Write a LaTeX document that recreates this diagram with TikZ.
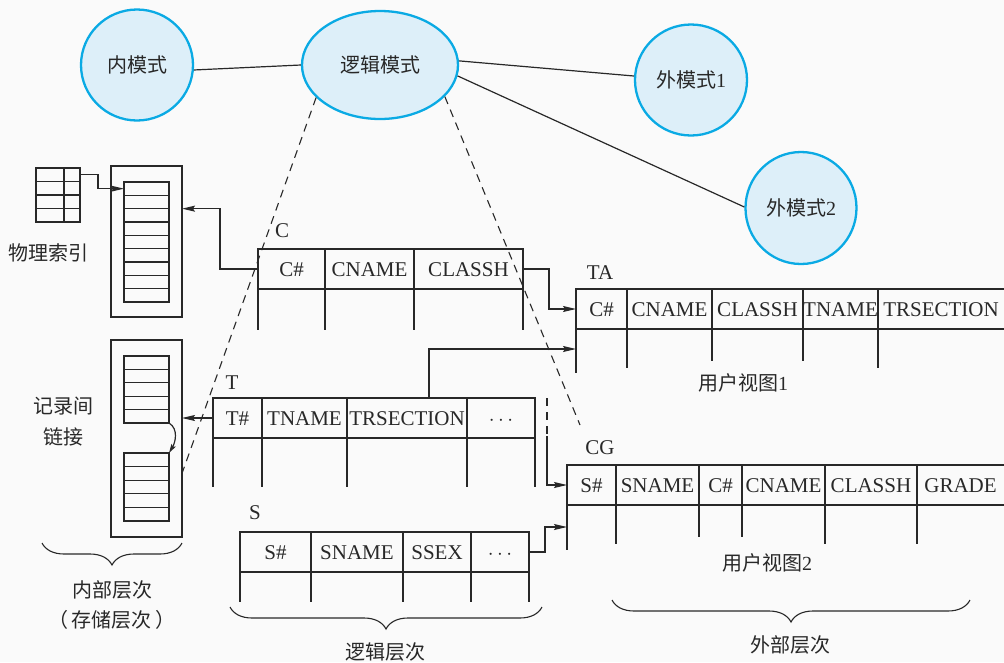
\documentclass[tikz,border=0pt]{standalone}
\usepackage{fontspec}
\setmainfont{Liberation Serif}
\newfontfamily\cjk{Noto Sans CJK SC}
\usetikzlibrary{shapes.geometric,arrows.meta,decorations.pathreplacing,calc}
\definecolor{bg}{RGB}{250,250,250}
\definecolor{ellfill}{RGB}{221,239,249}
\definecolor{elldraw}{RGB}{10,170,228}
\definecolor{ink}{RGB}{40,40,40}
\begin{document}
\begin{tikzpicture}[x=1pt,y=-1pt,color=ink,
  schema/.style={ellipse,draw=elldraw,fill=ellfill,line width=2.3pt,inner sep=0pt,font=\fontsize{20}{24}\selectfont},
  cell/.style={draw,line width=1.5pt,inner sep=0pt,outer sep=0pt,minimum height=40pt,anchor=north west,text height=14pt,text depth=0pt,font=\fontsize{21}{24}\selectfont},
  bare/.style={cell,draw=none},
  stub/.style={line width=1.1pt},
  rowbox/.style={draw,line width=1.1pt,inner sep=0pt,outer sep=0pt,anchor=north west},
  lab/.style={font=\fontsize{21}{24}\selectfont,inner sep=0pt},
  zh/.style={font=\cjk\fontsize{20}{31}\selectfont,inner sep=0pt},
  link/.style={line width=1.2pt},
  arr/.style={line width=1.2pt,-{Stealth[length=13pt,width=6pt,inset=2pt]}},
  arrsmall/.style={line width=1.2pt,-{Stealth[length=9pt,width=5pt,inset=1.5pt]}},
  dashline/.style={line width=1.1pt,dash pattern=on 8pt off 6pt},
  brc/.style={line width=1.1pt,decorate,decoration={brace,amplitude=22pt}}
]
\fill[bg] (0,0) rectangle (1004,662);
\useasboundingbox (0,0) rectangle (1004,662);

% schemas
\node[schema,minimum width=112pt,minimum height=111pt] (nei) at (137,65) {{\cjk 内模式}};
\node[schema,minimum width=156pt,minimum height=108pt] (luo) at (380,65) {{\cjk 逻辑模式}};
\node[schema,minimum width=112pt,minimum height=111pt] (wai1) at (691,80) {{\cjk 外模式}1};
\node[schema,minimum width=111pt,minimum height=112pt] (wai2) at (801,208) {{\cjk 外模式}2};
\draw[link] (nei.-5) -- (luo.180);
\draw[link] (luo.3) -- (wai1.176);
\draw[link] (luo.-8) -- (wai2.179);

% physical index
\foreach \i in {1,...,4}
  \node[rowbox,minimum width=44pt,minimum height=13.5pt] (idx\i) at (36,{168+(\i-1)*13.5}) {};
\draw[link] ([xshift=28pt]idx1.north west) -- ([xshift=28pt]idx4.south west);
\node[zh] (idxlab) at (49,253) {物理索引};

% storage box 1
\node[rowbox,minimum width=71pt,minimum height=151pt] (box1) at (111,166) {};
\foreach \i in {1,...,9}
  \node[rowbox,minimum width=45pt,minimum height=13.333pt] (in1r\i) at (124,{182+(\i-1)*13.333}) {};

% storage box 2
\node[rowbox,minimum width=71pt,minimum height=197pt] (box2) at (111,340) {};
\foreach \i in {1,...,5}
  \node[rowbox,minimum width=45pt,minimum height=13.4pt] (in2a\i) at (124,{356+(\i-1)*13.4}) {};
\foreach \i in {1,...,5}
  \node[rowbox,minimum width=45pt,minimum height=13.6pt] (in2b\i) at (124,{453+(\i-1)*13.6}) {};
\draw[arrsmall] (in2a5.south east) .. controls +(10,6) and +(6,-10) .. (in2b1.north east);
\node[zh,align=center] (linklab) at (63,422) {记录间\\链接};

% table C
\node[cell,minimum width=67pt] (C1) at (258,249) {C\#};
\node[cell,minimum width=89pt] (C2) at (325,249) {CNAME};
\node[cell,minimum width=109pt] (C3) at (414,249) {CLASSH};
\foreach \n in {C1,C2,C3} \draw[stub] (\n.south west) -- ++(0,41);
\draw[stub] (C3.south east) -- ++(0,41);
\node[lab] (Cname) at (282,231) {C};

% table TA
\node[cell,minimum width=51pt] (TA1) at (576,289) {C\#};
\node[cell,minimum width=85pt] (TA2) at (627,289) {CNAME};
\node[cell,minimum width=91pt] (TA3) at (712,289) {CLASSH};
\node[cell,minimum width=75pt] (TA4) at (803,289) {TNAME};
\node[bare,minimum width=126pt] (TA5) at (878,289) {TRSECTION};
\draw[line width=1.5pt] (TA5.north west) -- (TA5.north east);
\draw[line width=1.5pt] (TA5.south west) -- (TA5.south east);
\draw[stub] (TA1.south west) -- ++(0,44);
\draw[stub] (TA2.south west) -- ++(0,39);
\draw[stub] (TA3.south west) -- ++(0,32);
\draw[stub] (TA4.south west) -- ++(0,32);
\draw[stub] (TA5.south west) -- ++(0,39);
\node[lab] (TAname) at (600,273) {TA};
\node[zh] (view1) at (743,383) {用户视图{\rmfamily 1}};

% table T
\node[cell,minimum width=49pt] (T1) at (213,398) {T\#};
\node[cell,minimum width=85pt] (T2) at (262,398) {TNAME};
\node[cell,minimum width=120pt] (T3) at (347,398) {TRSECTION};
\node[cell,minimum width=68pt] (T4) at (467,398) {$\cdots$};
\foreach \n in {T1,T2,T3,T4} \draw[stub] (\n.south west) -- ++(0,49);
\draw[stub] (T4.south east) -- ++(0,49);
\node[lab] (Tname) at (232,383) {T};

% table CG
\node[cell,minimum width=49pt] (CG1) at (567,465) {S\#};
\node[cell,minimum width=83pt] (CG2) at (616,465) {SNAME};
\node[cell,minimum width=43pt] (CG3) at (699,465) {C\#};
\node[cell,minimum width=83pt] (CG4) at (742,465) {CNAME};
\node[cell,minimum width=92pt] (CG5) at (825,465) {CLASSH};
\node[bare,minimum width=87pt] (CG6) at (917,465) {GRADE};
\draw[line width=1.5pt] (CG6.north west) -- (CG6.north east);
\draw[line width=1.5pt] (CG6.south west) -- (CG6.south east);
\draw[stub] (CG1.south west) -- ++(0,45);
\draw[stub] (CG2.south west) -- ++(0,39);
\draw[stub] (CG3.south west) -- ++(0,32);
\draw[stub] (CG4.south west) -- ++(0,32);
\draw[stub] (CG5.south west) -- ++(0,39);
\draw[stub] (CG6.south west) -- ++(0,39);
\node[lab] (CGname) at (600,448) {CG};
\node[zh] (view2) at (767,563) {用户视图{\rmfamily 2}};

% table S
\node[cell,minimum width=71pt] (S1) at (240,532) {S\#};
\node[cell,minimum width=92pt] (S2) at (311,532) {SNAME};
\node[cell,minimum width=68pt] (S3) at (403,532) {SSEX};
\node[cell,minimum width=58pt] (S4) at (471,532) {$\cdots$};
\foreach \n in {S1,S2,S3,S4} \draw[stub] (\n.south west) -- ++(0,30);
\draw[stub] (S4.south east) -- ++(0,30);
\node[lab] (Sname) at (255,513) {S};

% dashed projections
\coordinate (rd) at (580,425);
\draw[dashline] (luo.207) -- (box2.east |- in2b2.center);
\draw[dashline] (luo.-26) -- (rd);

% connectors
\draw[arr] (idx1.east) -- ++(18,0) |- (in1r1.west);
\draw[arr] (C1.west) -- ++(-38,0) |- (box1.east |- in1r2.south);
\draw[arr] (C3.east) -- ++(26,0) |- (TA1.west);
\draw[arr] (T1.west) -- (box2.east |- T1.west);
\draw[arr] ([xshift=22pt]T3.north) |- ([yshift=-20pt]TA1.south west);
\draw[dashline] ([xshift=12pt]T4.north east) -- ++(0,38) coordinate (tc);
\draw[arr] (tc) |- (CG1.west);
\draw[arr] (S4.east) -- ++(16,0) |- ([yshift=-22pt]CG1.south west);

% braces
\draw[brc] (182,543) -- (42,543);
\node[zh] (inner1) at (112,590) {内部层次};
\node[zh] (inner2) at (112,620) {（\,存储层次\,）};
\draw[brc] (542,607) -- (230,607);
\node[zh] (logl) at (385,652) {逻辑层次};
\draw[brc] (970,600) -- (612,600);
\node[zh] (extl) at (790,645) {外部层次};
\end{tikzpicture}
\end{document}
